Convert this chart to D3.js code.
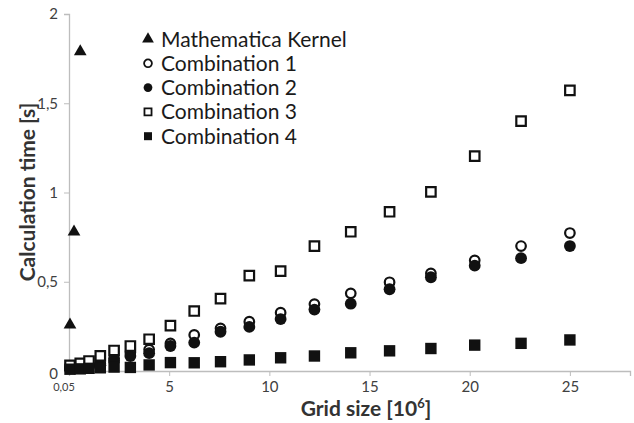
<!DOCTYPE html>
<html>
<head>
<meta charset="utf-8">
<script src="https://cdn.jsdelivr.net/npm/d3@7"></script>
<style>
  body { margin: 0; background: #fff; }
  text { font-family: Lato, "Open Sans", sans-serif; }
</style>
</head>
<body>
<div id="chart"></div>
<script>
// grid sizes [10^6] and calculation times [s]
var gridSize = [0.05, 0.5625, 1, 1.5625, 2.25, 3.0625, 4, 5.0625, 6.25, 7.5625, 9,
                10.5625, 12.25, 14.0625, 16, 18.0625, 20.25, 22.5625, 25];
var kernelSize = [0.05, 0.25, 0.5625];
var kernelTime = [0.258, 0.78, 1.79];
var comb1 = [0.02, 0.025, 0.032, 0.043, 0.071, 0.103, 0.12, 0.155, 0.202, 0.239, 0.276,
             0.327, 0.375, 0.435, 0.497, 0.547, 0.62, 0.70, 0.773];
var comb2 = [0.015, 0.02, 0.025, 0.032, 0.058, 0.084, 0.1, 0.14, 0.159, 0.22, 0.247,
             0.291, 0.344, 0.377, 0.458, 0.525, 0.59, 0.632, 0.70];
var comb3 = [0.032, 0.043, 0.056, 0.085, 0.115, 0.14, 0.178, 0.254, 0.336, 0.405, 0.534,
             0.56, 0.70, 0.78, 0.892, 1.004, 1.204, 1.40, 1.572];
var comb4 = [0.01, 0.012, 0.015, 0.018, 0.022, 0.02, 0.034, 0.047, 0.046, 0.052, 0.062,
             0.074, 0.084, 0.102, 0.113, 0.126, 0.145, 0.155, 0.174];
var seriesNames = ["Mathematica Kernel", "Combination 1", "Combination 2", "Combination 3", "Combination 4"];
var xTicks = [5, 10, 15, 20, 25];
var yTicks = [0, 0.5, 1, 1.5, 2];

var width = 634, height = 423;
var ink = "#111";

var svg = d3.select("#chart").append("svg")
    .attr("width", width)
    .attr("height", height);

var x = d3.scaleLinear().domain([0, 28]).range([69, 630]);
var y = d3.scaleLinear().domain([0, 2]).range([371, 14]);

// axes
var fmt = function(d) { return String(d).replace(".", ","); };

var yAxis = svg.append("g")
    .attr("transform", "translate(69,0)")
    .call(d3.axisLeft(y).tickValues(yTicks).tickSize(5).tickPadding(6).tickFormat(fmt));
var xAxis = svg.append("g")
    .attr("transform", "translate(0,371)")
    .call(d3.axisBottom(x).tickValues(xTicks).tickSize(5).tickPadding(5).tickFormat(fmt));

[yAxis, xAxis].forEach(function(g) {
  g.select(".domain").attr("stroke", "#bdbdbd").attr("stroke-width", 1.3);
  g.selectAll(".tick line").attr("stroke", "#bdbdbd");
  g.selectAll(".tick text").attr("fill", "#404040").style("font-size", "15px");
});
yAxis.select(".tick text").attr("dy", "0.5em");

// the small first grid-size label
svg.append("text")
    .attr("x", x(0.05) - 6).attr("y", 391)
    .attr("text-anchor", "middle")
    .attr("fill", "#404040")
    .style("font-size", "11px")
    .text("0,05");

// axis titles
svg.append("text")
    .attr("transform", "translate(35,192) rotate(-90)")
    .attr("text-anchor", "middle")
    .attr("fill", "#333")
    .style("font-size", "21px").style("font-weight", "bold")
    .text("Calculation time [s]");

var xt = svg.append("text")
    .attr("x", 366).attr("y", 416)
    .attr("text-anchor", "middle")
    .attr("fill", "#333")
    .style("font-size", "21px").style("font-weight", "bold")
    .text("Grid size [10");
xt.append("tspan").attr("dy", -8).style("font-size", "13px").text("6");
xt.append("tspan").attr("dy", 8).text("]");

// markers
var shapes = [
  {type: d3.symbolTriangle, size: 70, fill: ink, stroke: "none"},
  {type: d3.symbolCircle, size: 72, fill: "#fff", stroke: ink},
  {type: d3.symbolCircle, size: 110, fill: ink, stroke: "none"},
  {type: d3.symbolSquare, size: 90, fill: "#fff", stroke: ink},
  {type: d3.symbolSquare, size: 130, fill: ink, stroke: "none"}
];

function drawSeries(xs, ys, k) {
  var s = shapes[k];
  svg.append("g").selectAll("path")
    .data(ys)
    .enter()
    .append("path")
    .attr("transform", function(d, i) { return "translate(" + x(xs[i]) + "," + y(d) + ")"; })
    .attr("d", d3.symbol().type(s.type).size(s.size))
    .attr("fill", s.fill)
    .attr("stroke", s.stroke)
    .attr("stroke-width", 2.2);
}

drawSeries(kernelSize, kernelTime, 0);
drawSeries(gridSize, comb1, 1);
drawSeries(gridSize, comb2, 2);
drawSeries(gridSize, comb3, 3);
drawSeries(gridSize, comb4, 4);

// legend
var legendSize = [60, 48, 60, 50, 64];
var legend = svg.append("g");
seriesNames.forEach(function(name, i) {
  var ly = 39 + i * 24.3;
  var s = shapes[i];
  legend.append("path")
    .attr("transform", "translate(148," + ly + ")")
    .attr("d", d3.symbol().type(s.type).size(legendSize[i]))
    .attr("fill", s.fill)
    .attr("stroke", s.stroke)
    .attr("stroke-width", 1.8);
  legend.append("text")
    .attr("x", 161).attr("y", ly)
    .attr("dy", "0.36em")
    .attr("fill", "#1a1a1a")
    .style("font-size", "21px")
    .text(name);
});
</script>
</body>
</html>
